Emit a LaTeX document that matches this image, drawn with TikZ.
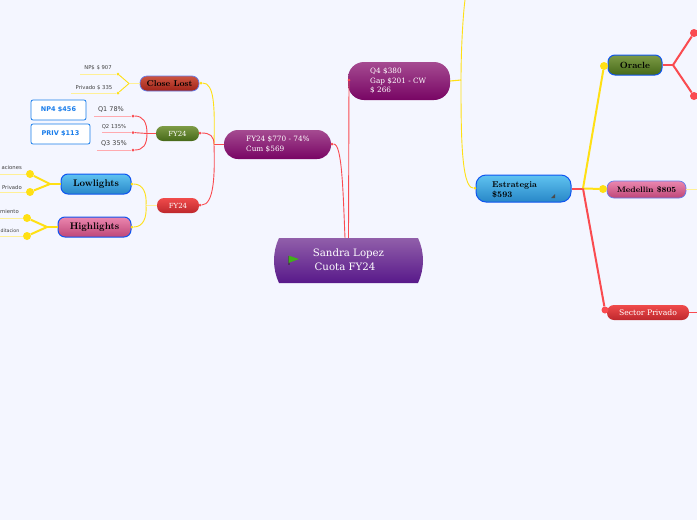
\documentclass[tikz,border=0pt]{standalone}
\usepackage{fontspec}
\newfontfamily\slabfont{DejaVu Serif}
\newfontfamily\plainfont{DejaVu Sans}
\definecolor{PageBlue}{RGB}{244,246,255}
\definecolor{LineRed}{RGB}{250,75,80}
\definecolor{LineYellow}{RGB}{255,224,20}
\definecolor{PaleYellow}{RGB}{255,240,150}
\definecolor{PaleRed}{RGB}{255,170,175}
\definecolor{EdgeBlue}{RGB}{15,85,240}
\definecolor{SoftBlue}{RGB}{100,125,235}
\definecolor{BoxBlue}{RGB}{25,125,235}
\definecolor{RootTop}{RGB}{145,95,170}
\definecolor{RootLow}{RGB}{88,25,138}
\definecolor{PlumTop}{RGB}{165,75,145}
\definecolor{PlumLow}{RGB}{120,5,100}
\definecolor{SkyTop}{RGB}{95,195,240}
\definecolor{SkyLow}{RGB}{40,135,200}
\definecolor{PinkTop}{RGB}{235,135,175}
\definecolor{PinkLow}{RGB}{190,70,120}
\definecolor{MossTop}{RGB}{125,155,70}
\definecolor{MossLow}{RGB}{70,105,25}
\definecolor{RedTop}{RGB}{240,75,75}
\definecolor{RedLow}{RGB}{190,40,45}
\definecolor{BrickTop}{RGB}{205,85,65}
\definecolor{BrickLow}{RGB}{160,35,25}
\definecolor{FlagGreen}{RGB}{65,175,25}
\usetikzlibrary{positioning, calc, shapes.misc}
\tikzset{
	topic/.style={inner sep=0pt, align=center, rounded corners=7pt},
	plumtopic/.style={topic, rounded corners=14pt, top color=PlumTop, bottom color=PlumLow, text=white, align=left},
	plumtext/.style={inner sep=0pt, anchor=west, text=white, font=\slabfont\fontsize{7.3}{9.5}\selectfont, align=left},
	heavy/.style={topic, draw=EdgeBlue, line width=1pt, font=\bfseries\fontsize{9.6}{10}\selectfont},
	softtopic/.style={topic, font=\slabfont\fontsize{7}{9}\selectfont, text=white},
	leaf/.style={inner sep=0pt, font=\plainfont\fontsize{5.3}{6}\selectfont, text=black!75},
	amount/.style={inner sep=0pt, draw=BoxBlue, fill=white, rounded corners=2pt, line width=0.8pt, text=BoxBlue, font=\plainfont\bfseries\fontsize{6.5}{8}\selectfont},
	redline/.style={draw=LineRed, line width=0.9pt},
	redthick/.style={draw=LineRed, line width=2pt},
	yellowline/.style={draw=LineYellow, line width=0.9pt},
	yellowthick/.style={draw=LineYellow, line width=2pt},
	paleyellow/.style={draw=PaleYellow, line width=0.9pt},
	palered/.style={draw=PaleRed, line width=0.9pt},
	yellowdot/.style={fill=LineYellow, circle, inner sep=0pt, minimum size=8pt},
	reddot/.style={fill=LineRed, circle, inner sep=0pt, minimum size=8pt},
	tinyred/.style={fill=LineRed, circle, inner sep=0pt, minimum size=3pt},
	tinyyellow/.style={fill=LineYellow, circle, inner sep=0pt, minimum size=3pt}
}
\begin{document}
\begin{tikzpicture}[x=1pt, y=-1pt]
	\useasboundingbox[fill=PageBlue] (0,0) rectangle (697,520);

	\node[rounded rectangle, rounded rectangle arc length=50, inner sep=0pt, minimum width=149pt, minimum height=45pt, top color=RootTop, bottom color=RootLow] (root) at (348.5,260.5) {};
	\node[inner sep=0pt, text=white, font=\slabfont\fontsize{10.2}{14}\selectfont, align=center] (rootlabel) at (348.5,260) {Sandra Lopez\\Cuota FY24\hspace*{7pt}};
	\fill[black!45!RootTop] (288,256) rectangle (289.5,265);
	\fill[FlagGreen] (288.5,255.5) -- (299,259) -- (288.5,263) -- cycle;

	\node[plumtopic, minimum width=107pt, minimum height=29pt] (fyplum) at (277.5,144.5) {};
	\node[plumtext] (fytext) at (246,144.5) {FY24 \$770 - 74\%\\Cum \$569};
	\node[plumtopic, rounded corners=16pt, minimum width=102pt, minimum height=38pt] (qfour) at (399,81) {};
	\node[plumtext] (qtext) at (370,81) {Q4 \$380\\Gap \$201 - CW\\\$ 266};

	\node[heavy, draw=SoftBlue, line width=0.7pt, font=\bfseries\fontsize{8.5}{9}\selectfont, minimum width=59pt, minimum height=15pt, top color=BrickTop, bottom color=BrickLow] (closelost) at (169.5,83.5) {Close Lost};
	\node[softtopic, minimum width=43pt, minimum height=15pt, top color=MossTop, bottom color=MossLow] (fygreen) at (177.5,133.5) {FY24};
	\node[softtopic, minimum width=42pt, minimum height=15pt, top color=RedTop, bottom color=RedLow] (fyred) at (178,205.5) {FY24};
	\node[heavy, minimum width=70pt, minimum height=20pt, top color=SkyTop, bottom color=SkyLow] (lowlights) at (96,184) {Lowlights};
	\node[heavy, minimum width=73pt, minimum height=20pt, top color=PinkTop, bottom color=PinkLow] (highlights) at (94.5,227) {Highlights};

	\node[heavy, rounded corners=10pt, minimum width=95pt, minimum height=27pt, top color=SkyTop, bottom color=SkyLow] (estrategia) at (523.5,188.5) {};
	\node[inner sep=0pt, anchor=west, font=\bfseries\fontsize{8.5}{10}\selectfont, align=left] (esttext) at (492,190) {Estrategia\\\$593};
	\fill[black!70] (555,194) -- (555,198) -- (551,198) -- cycle;
	\node[heavy, font=\bfseries\fontsize{9}{9}\selectfont, minimum width=54pt, minimum height=20pt, top color=MossTop, bottom color=MossLow] (oracle) at (635,65) {Oracle};
	\node[heavy, draw=SoftBlue, line width=0.7pt, font=\bfseries\fontsize{7.9}{9}\selectfont, minimum width=79pt, minimum height=17pt, top color=PinkTop, bottom color=PinkLow] (medellin) at (646.5,189.5) {Medellin \$805};
	\node[softtopic, font=\slabfont\fontsize{7.7}{9}\selectfont, minimum width=82pt, minimum height=15pt, top color=RedTop, bottom color=RedLow] (privado) at (648,312.5) {Sector Privado};

	\node[amount, minimum width=55pt, minimum height=20pt] (npbox) at (58.5,110) {NP4 \$456};
	\node[amount, minimum width=59pt, minimum height=20pt] (privbox) at (60.5,134) {PRIV \$113};
	\node[leaf] (npleaf) at (98,68) {NP\$ \$ 907};
	\node[leaf] (privleaf) at (94,88) {Privado \$ 335};
	\node[leaf, font=\plainfont\fontsize{6.5}{8}\selectfont] (qone) at (111,110) {Q1 78\%};
	\node[leaf] (qtwo) at (114,127) {Q2 135\%};
	\node[leaf, font=\plainfont\fontsize{6.5}{8}\selectfont] (qthree) at (114,144) {Q3 35\%};
	\node[leaf, anchor=east] (lowone) at (22,168) {aciones};
	\node[leaf, anchor=east] (lowtwo) at (22,188) {Privado};
	\node[leaf, anchor=east] (highone) at (19,212) {miento};
	\node[leaf, anchor=east, font=\plainfont\fontsize{4.7}{6}\selectfont] (hightwo) at (19.5,231) {ditacion};

	\node[tinyred] (rootdot) at (349,80) {};
	\node[tinyred] (fydot) at (332,144) {};
	\node[tinyyellow] (closedot) at (201,83) {};
	\node[tinyred] (greendot) at (200,133) {};
	\node[tinyred] (reddot) at (200,205) {};
	\node[tinyyellow] (lowdot) at (132,184) {};
	\node[tinyyellow] (highdot) at (132,227) {};
	\node[tinyyellow] (estdot) at (475,188) {};
	\node[tinyred] (qonedot) at (133,116) {};
	\node[tinyred] (qtwodot) at (133,132.5) {};
	\node[tinyred] (qthreedot) at (133,150) {};
	\node[tinyyellow] (npdot) at (118,74) {};
	\node[tinyyellow] (privdot) at (118,93) {};
	\node[yellowdot] (lowonedot) at (30,174) {};
	\node[yellowdot] (lowtwodot) at (30,192) {};
	\node[yellowdot] (highonedot) at (27,218) {};
	\node[yellowdot] (hightwodot) at (27,236) {};
	\node[yellowdot] (oracledot) at (604,66) {};
	\node[yellowdot] (medellindot) at (603,189) {};
	\node[reddot, minimum size=7pt] (privadodot) at (605,310) {};
	\node[reddot] (upperdot) at (694,33) {};
	\node[reddot] (lowerdot) at (694,96) {};

	\coordinate (fyfork) at (214,144.5);
	\coordinate (closefork) at (129,83.5);
	\coordinate (greenfork) at (147,133.5);
	\coordinate (redfork) at (146,205.5);
	\coordinate (lowfork) at (50,184);
	\coordinate (highfork) at (47,227);
	\coordinate (qfourfork) at (461,80);
	\coordinate (estfork) at (583,188.5);
	\coordinate (oraclefork) at (673,65);
	\coordinate (topend) at (465,0);
	\coordinate (npend) at (80,74);
	\coordinate (privend) at (71,93);
	\coordinate (qoneend) at (94,116);
	\coordinate (qtwoend) at (102,132.5);
	\coordinate (qthreeend) at (97,150);
	\coordinate (lowoneend) at (0,174);
	\coordinate (lowtwoend) at (0,192);
	\coordinate (highoneend) at (0,218);
	\coordinate (hightwoend) at (0,236);
	\coordinate (medellinend) at (697,189.5);
	\coordinate (privadoend) at (697,312.5);
	\coordinate (rootleft) at (345,238);

	\draw[redline] (root.north) -- (rootdot);
	\draw[redline] (rootleft) .. controls (343,190) and (342,144) .. (fydot);
	\draw[redline] (fyplum.west) -- (fyfork);
	\draw[yellowline] (fyfork) .. controls (215,105) and (214,83) .. (closedot);
	\draw[redline] (fyfork) .. controls (214,136) and (210,133) .. (greendot);
	\draw[redline] (fyfork) .. controls (215,175) and (214,205) .. (reddot);

	\draw[paleyellow, line width=1.2pt] (closelost.west) -- (closefork);
	\draw[yellowline] (closefork) -- (npdot);
	\draw[yellowline] (closefork) -- (privdot);
	\draw[paleyellow] (npdot) -- (npend);
	\draw[paleyellow] (privdot) -- (privend);

	\draw[redline] (fygreen.west) -- (greenfork);
	\draw[redline] (greenfork) .. controls (147,122) and (143,116) .. (qonedot);
	\draw[redline] (greenfork) -- (qtwodot);
	\draw[redline] (greenfork) .. controls (147,145) and (143,150) .. (qthreedot);
	\draw[palered] (qonedot) -- (qoneend);
	\draw[palered] (qtwodot) -- (qtwoend);
	\draw[palered] (qthreedot) -- (qthreeend);

	\draw[paleyellow] (fyred.west) -- (redfork);
	\draw[yellowline] (redfork) .. controls (147,193) and (143,184) .. (lowdot);
	\draw[yellowline] (redfork) .. controls (147,218) and (143,227) .. (highdot);

	\draw[yellowthick] (lowlights.west) -- (lowfork);
	\draw[yellowthick] (lowfork) -- (lowonedot);
	\draw[yellowthick] (lowfork) -- (lowtwodot);
	\draw[paleyellow] (lowonedot) -- (lowoneend);
	\draw[paleyellow] (lowtwodot) -- (lowtwoend);
	\draw[yellowthick] (highlights.west) -- (highfork);
	\draw[yellowthick] (highfork) -- (highonedot);
	\draw[yellowthick] (highfork) -- (hightwodot);
	\draw[paleyellow] (highonedot) -- (highoneend);
	\draw[paleyellow] (hightwodot) -- (hightwoend);

	\draw[yellowline, line width=1.1pt] (qfour.east) -- (qfourfork);
	\draw[yellowline] (qfourfork) .. controls (461,50) and (463,15) .. (topend);
	\draw[yellowline] (qfourfork) .. controls (461,130) and (461,188) .. (estdot);

	\draw[redthick] (estrategia.east) -- (estfork);
	\draw[yellowthick] (estfork) -- (oracledot);
	\draw[yellowthick] (estfork) -- (medellindot);
	\draw[redthick] (estfork) -- (privadodot);

	\draw[redthick] (oracle.east) -- (oraclefork);
	\draw[redthick] (oraclefork) -- (upperdot);
	\draw[redthick] (oraclefork) -- (lowerdot);
	\draw[paleyellow] (medellin.east) -- (medellinend);
	\draw[redline, line width=1.1pt] (privado.east) -- (privadoend);
\end{tikzpicture}
\end{document}
